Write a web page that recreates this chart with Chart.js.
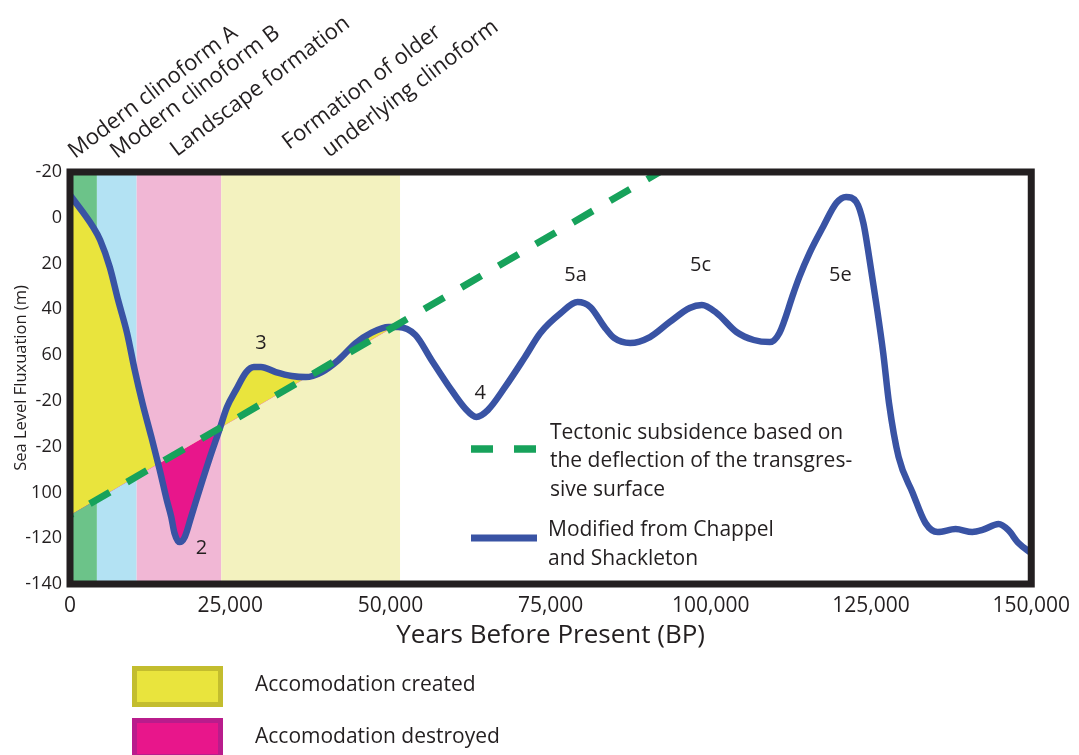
<!DOCTYPE html>
<html>
<head>
<meta charset="utf-8">
<script src="https://cdn.jsdelivr.net/npm/chart.js@4.4.1/dist/chart.umd.min.js"></script>
<style>
  html, body { margin: 0; padding: 0; background: #ffffff; }
  canvas { display: block; }
</style>
</head>
<body>
<canvas id="chart" width="1079" height="755"></canvas>
<script>
// Sea level curve (years before present, metres)
const years = [0, 3600, 4700, 6200, 7500, 8900, 10100, 11300, 12700, 14000,
  15100, 15800, 16300, 17100, 17900, 18900, 20200, 21700, 23300, 24500,
  25900, 27500, 28700, 29800, 32100, 34600, 36800, 39300, 41900, 44600,
  47000, 49700, 51200, 53900, 56400, 59500, 61600, 63400, 65200, 67900,
  71000, 73400, 76600, 79200, 81200, 83400, 84900, 87400, 90500, 93600,
  96700, 98600, 100900, 104000, 106700, 109200, 110700, 112900, 113800, 115400,
  117500, 119600, 121100, 122700, 123800, 124700, 125800, 126900, 127800, 129300,
  131500, 133500, 135400, 138200, 140800, 142400, 144900, 146400, 148000, 150000];
const seaLevel = [10, -4, -9.7, -21.5, -35.9, -50.3, -66.5, -80.9, -95.8, -110.2,
  -123.3, -130.7, -137.7, -141.7, -139.5, -130.7, -118.9, -105.8, -92.7, -82.7,
  -75.2, -67.4, -65.2, -65.2, -67.4, -69.1, -69.6, -67.4, -62.1, -54.7,
  -50.3, -47.7, -47.7, -51.2, -62.1, -75.2, -83.1, -87, -84, -73.9,
  -60.8, -50.3, -41.6, -36.8, -39, -47.7, -52.5, -54.7, -52.1, -45.5,
  -39.4, -38.1, -41.6, -49.9, -53.4, -54.3, -50.3, -32.9, -25.9, -15.4,
  -4, 6.5, 9.1, 6.9, -2.3, -17.1, -37.2, -59.1, -80.9, -104.5,
  -120.2, -133.4, -137.3, -136, -137.3, -136.4, -133.8, -136.4, -142.1, -146.5];

// Tectonic subsidence trend (straight line through two points)
const subsidenceYears = [0, 92000];
const subsidenceLevel = [-130, 20];

// Accommodation is shaded between the two curves up to this age
const accommodationEnd = 50500;

// Depositional phases shaded behind the curves
const phaseStart = [0, 4200, 10400, 23600];
const phaseEnd = [4200, 10400, 23600, 51500];

// Marine isotope stage labels
const stageNames = ['3', '2', '4', '5a', '5c', '5e'];
const stageYears = [29800, 20500, 64000, 78900, 98400, 120200];
const stageLevels = [-54.7, -144.3, -76.6, -25, -20.6, -25];

// Y tick labels as printed on the axis, top to bottom
const yTickLabels = ['-20', '0', '20', '40', '60', '-20', '-20', '100', '-120', '-140'];
const yMax = 20, yMin = -160, yStep = 20;
const xMax = 150000, xStep = 25000;

// Phase names written above the frame
const phaseTitles = [
  ['Modern clinoform A'],
  ['Modern clinoform B'],
  ['Landscape formation'],
  ['Formation of older', 'underlying clinoform']
];

const FONT = "'Open Sans', 'Noto Sans', sans-serif";
const INK = '#231f20';
const colors = {
  phases: ['#6cc389', '#b3e2f3', '#f1b7d5', '#f3f2bf'],
  created: '#e9e43d',
  createdEdge: '#c3bd2e',
  destroyed: '#e8168b',
  destroyedEdge: '#b91c8c',
  curve: '#3953a4',
  subsidence: '#17a25b'
};

const curvePoints = years.map((x, i) => ({ x, y: seaLevel[i] }));
const subsidencePoints = subsidenceYears.map((x, i) => ({ x, y: subsidenceLevel[i] }));

// Curve section used for the accommodation fill, closed at accommodationEnd
const fillPoints = curvePoints.filter(p => p.x < accommodationEnd);
(function closeFill() {
  const k = years.findIndex(x => x >= accommodationEnd);
  const t = (accommodationEnd - years[k - 1]) / (years[k] - years[k - 1]);
  fillPoints.push({ x: accommodationEnd, y: seaLevel[k - 1] + t * (seaLevel[k] - seaLevel[k - 1]) });
})();

const decorations = {
  id: 'decorations',
  beforeDatasetsDraw(chart) {
    const { ctx, chartArea: a, scales: { x } } = chart;
    ctx.save();
    phaseStart.forEach((s, i) => {
      const x0 = x.getPixelForValue(s);
      const x1 = x.getPixelForValue(phaseEnd[i]);
      ctx.fillStyle = colors.phases[i];
      ctx.fillRect(x0, a.top, x1 - x0, a.bottom - a.top);
    });
    ctx.restore();
  },
  afterDatasetsDraw(chart) {
    const { ctx, chartArea: a, scales: { x, y } } = chart;
    ctx.save();
    // frame
    ctx.strokeStyle = INK;
    ctx.lineWidth = 7;
    ctx.strokeRect(a.left, a.top, a.right - a.left, a.bottom - a.top);

    // stage labels
    ctx.fillStyle = INK;
    ctx.font = '20px ' + FONT;
    ctx.textAlign = 'center';
    ctx.textBaseline = 'middle';
    stageNames.forEach((n, i) => {
      ctx.fillText(n, x.getPixelForValue(stageYears[i]), y.getPixelForValue(stageLevels[i]));
    });

    // in-plot legend
    const sub = chart.data.datasets[0];
    const cur = chart.data.datasets[1];
    ctx.lineCap = 'butt';
    ctx.strokeStyle = sub.borderColor;
    ctx.lineWidth = 7.5;
    ctx.setLineDash([22, 21]);
    ctx.beginPath(); ctx.moveTo(471, 449); ctx.lineTo(537, 449); ctx.stroke();
    ctx.setLineDash([]);
    ctx.strokeStyle = cur.borderColor;
    ctx.lineWidth = 7;
    ctx.beginPath(); ctx.moveTo(471, 538); ctx.lineTo(537, 538); ctx.stroke();

    ctx.fillStyle = INK;
    ctx.font = '21px ' + FONT;
    ctx.textAlign = 'left';
    ctx.textBaseline = 'middle';
    ['Tectonic subsidence based on', 'the deflection of the transgres-', 'sive surface']
      .forEach((t, i) => ctx.fillText(t, 550, 433 + i * 28.5));
    ['Modified from Chappel', 'and Shackleton']
      .forEach((t, i) => ctx.fillText(t, 548, 530 + i * 29));
    ctx.restore();
  },
  afterDraw(chart) {
    const { ctx } = chart;
    ctx.save();
    // phase names, slanted
    const anchors = [[[75, 159]], [[117, 159]], [[177, 157]], [[289, 150], [329, 158]]];
    ctx.fillStyle = INK;
    ctx.font = '22px ' + FONT;
    ctx.textAlign = 'left';
    ctx.textBaseline = 'alphabetic';
    phaseTitles.forEach((lines, i) => {
      lines.forEach((t, j) => {
        const [px, py] = anchors[i][j];
        ctx.save();
        ctx.translate(px, py);
        ctx.rotate(-37 * Math.PI / 180);
        ctx.fillText(t, 0, 0);
        ctx.restore();
      });
    });

    // accommodation key
    const key = [
      { fill: colors.created, edge: colors.createdEdge, top: 666, text: 'Accomodation created' },
      { fill: colors.destroyed, edge: colors.destroyedEdge, top: 718, text: 'Accomodation destroyed' }
    ];
    key.forEach(k => {
      ctx.fillStyle = k.edge;
      ctx.fillRect(132, k.top, 91, 41);
      ctx.fillStyle = k.fill;
      ctx.fillRect(137, k.top + 5, 81, 31);
      ctx.fillStyle = INK;
      ctx.font = '21px ' + FONT;
      ctx.textBaseline = 'middle';
      ctx.fillText(k.text, 255, k.top + 19);
    });
    ctx.restore();
  }
};

new Chart(document.getElementById('chart'), {
  type: 'line',
  data: {
    datasets: [
      {
        label: 'Tectonic subsidence',
        data: subsidencePoints,
        borderColor: colors.subsidence,
        borderWidth: 7,
        borderDash: [23, 20],
        borderDashOffset: 20,
        borderCapStyle: 'butt',
        pointRadius: 0,
        fill: false
      },
      {
        label: 'Sea level',
        data: curvePoints,
        borderColor: colors.curve,
        borderWidth: 6.5,
        cubicInterpolationMode: 'monotone',
        borderJoinStyle: 'round',
        borderCapStyle: 'round',
        pointRadius: 0,
        fill: false
      },
      {
        label: 'Accommodation',
        data: fillPoints,
        borderWidth: 0,
        borderColor: 'rgba(0,0,0,0)',
        cubicInterpolationMode: 'monotone',
        pointRadius: 0,
        fill: { target: 0, above: colors.created, below: colors.destroyed }
      }
    ]
  },
  options: {
    responsive: false,
    animation: false,
    events: [],
    layout: { padding: { top: 172, right: 43, left: 0, bottom: 0 } },
    plugins: { legend: { display: false }, tooltip: { enabled: false } },
    scales: {
      x: {
        type: 'linear',
        min: 0,
        max: xMax,
        grid: { display: false, drawTicks: false },
        border: { display: false },
        ticks: {
          stepSize: xStep,
          autoSkip: false,
          maxRotation: 0,
          padding: 9,
          color: INK,
          font: { family: FONT, size: 21 },
          callback: v => v.toLocaleString('en-US')
        },
        title: {
          display: true,
          text: 'Years Before Present (BP)',
          color: INK,
          font: { family: FONT, size: 26 },
          padding: { top: 0, bottom: 104 }
        },
        afterFit: s => { s.height = 171; }
      },
      y: {
        type: 'linear',
        min: yMin,
        max: yMax,
        grid: { display: false, drawTicks: false },
        border: { display: false },
        ticks: {
          stepSize: yStep,
          padding: 8,
          color: INK,
          font: { family: FONT, size: 18 },
          callback: v => yTickLabels[Math.round((yMax - v) / yStep)]
        },
        title: {
          display: true,
          text: 'Sea Level Fluxuation (m)',
          color: INK,
          font: { family: FONT, size: 16.5 },
          padding: { top: 11, bottom: 0 }
        },
        afterFit: s => { s.width = 70; }
      }
    }
  },
  plugins: [decorations]
});
</script>
</body>
</html>
